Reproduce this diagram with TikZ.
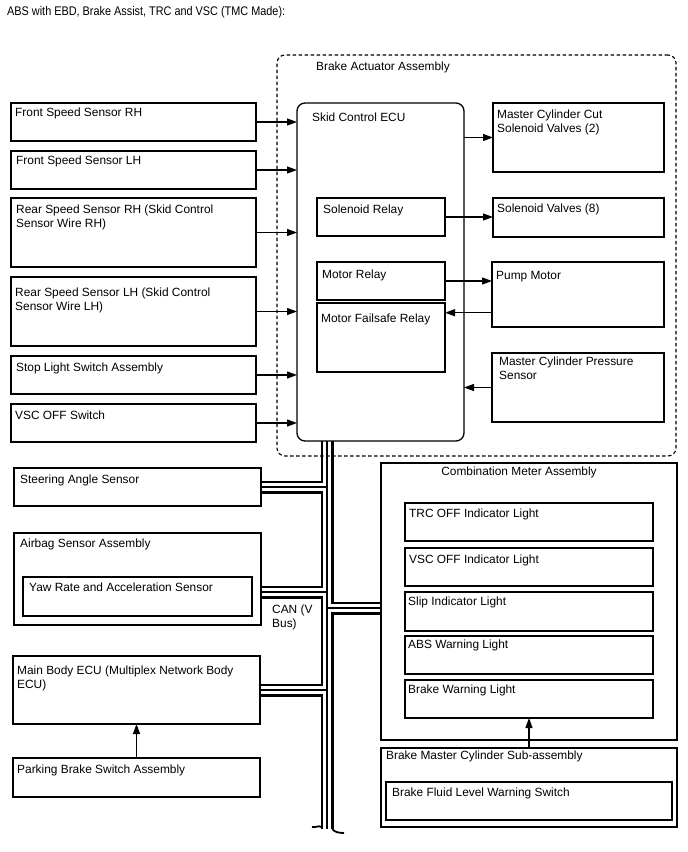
\documentclass[tikz,border=0pt]{standalone}
\usepackage{fontspec}
\setmainfont{Liberation Sans}
\newfontfamily\titlefont[FakeStretch=0.87]{Liberation Sans}
\usetikzlibrary{arrows.meta,calc}
\begin{document}
\begin{tikzpicture}[x=1pt,y=-1pt,
  box/.style={draw, line width=1.3pt, anchor=north west, inner sep=0pt, outer sep=0pt},
  lbl/.style={anchor=base west, inner sep=0pt, font=\fontsize{11.9}{14}\selectfont, align=left},
  arr/.style={line width=1.1pt, -{Triangle[length=10pt,width=7pt]}},
  ]
\useasboundingbox (0,0) rectangle (688,852);
% bus coordinates
\coordinate (bt) at (327,441);
\coordinate (bb) at (327,829);
\coordinate (j1) at (327,487);
\coordinate (j2) at (327,592);
\coordinate (j3) at (327,690);
\coordinate (j4) at (327,608);
\coordinate (sasE) at (261,487);
\coordinate (abE) at (261,592);
\coordinate (mbE) at (260,690);
\coordinate (cbW) at (381,608);
\foreach \w/\c in {13/black,7.2/white,1.3/black}{
  \draw[line width=\w pt,\c] (bt) -- (bb) (sasE) -- (j1) (abE) -- (j2) (mbE) -- (j3) (j4) -- (cbW);
}
\coordinate (tl1) at (321.5,827);
\coordinate (tl2) at (312,827);
\coordinate (tr1) at (332.5,829);
\coordinate (tr2) at (344,833);
\draw[line width=1.8pt] (tl1) .. controls (318,825) and (316,828) .. (tl2);
\draw[line width=1.8pt] (tr1) .. controls (334,832) and (339,833) .. (tr2);

% title
\node[anchor=base west, inner sep=0pt, font=\titlefont\fontsize{12.5}{14}\selectfont] (title) at (7,15) {ABS with EBD, Brake Assist, TRC and VSC (TMC Made):};

% brake actuator assembly (dashed)
\node[box, line width=1.1pt, dash pattern=on 3.5pt off 2.5pt, rounded corners=8pt, minimum width=399pt, minimum height=401pt] (act) at (277,55) {};
\node[box, rounded corners=8pt, minimum width=167pt, minimum height=338pt, fill=white] (ecu) at (297,103) {};

% left boxes
\node[box, minimum width=245pt, minimum height=38pt] (frh) at (11,103) {};
\node[box, minimum width=245pt, minimum height=38pt] (flh) at (11,151) {};
\node[box, minimum width=245pt, minimum height=69pt] (rrh) at (11,198) {};
\node[box, minimum width=245pt, minimum height=69pt] (rlh) at (11,277) {};
\node[box, minimum width=245pt, minimum height=38pt] (stop) at (11,356) {};
\node[box, minimum width=245pt, minimum height=38pt] (vscsw) at (11,404) {};

% actuator inner boxes
\node[box, minimum width=171pt, minimum height=69pt] (mcc) at (493,103) {};
\node[box, minimum width=128pt, minimum height=38pt] (srel) at (317,198) {};
\node[box, minimum width=171pt, minimum height=39pt] (sv) at (493,198) {};
\node[box, minimum width=128pt, minimum height=38pt] (mrel) at (317,262) {};
\node[box, minimum width=128pt, minimum height=69pt] (mfr) at (317,303) {};
\node[box, minimum width=172pt, minimum height=65pt] (pump) at (492,262) {};
\node[box, minimum width=172pt, minimum height=69pt] (mcps) at (492,353) {};

% lower left
\node[box, minimum width=247pt, minimum height=38pt] (sas) at (14,468) {};
\node[box, minimum width=247pt, minimum height=92pt] (airbag) at (14,533) {};
\node[box, minimum width=229pt, minimum height=39pt] (yaw) at (23,577) {};
\node[box, minimum width=247pt, minimum height=68pt] (mbecu) at (13,656) {};
\node[box, minimum width=247pt, minimum height=39pt] (pbs) at (13,758) {};

% combination meter
\node[box, minimum width=296pt, minimum height=277pt] (comb) at (381,463) {};
\node[box, minimum width=248pt, minimum height=38pt] (trc) at (405,503) {};
\node[box, minimum width=248pt, minimum height=38pt] (vscl) at (405,548) {};
\node[box, minimum width=248pt, minimum height=39pt] (slip) at (405,592) {};
\node[box, minimum width=248pt, minimum height=38pt] (abs) at (405,636) {};
\node[box, minimum width=248pt, minimum height=38pt] (bwl) at (405,680) {};
\node[box, minimum width=296pt, minimum height=79pt] (bmc) at (381,748) {};
\node[box, minimum width=286pt, minimum height=38pt] (bfl) at (386,782) {};

% arrows
\draw[arr] (frh.east) -- (frh.east -| ecu.west);
\draw[arr] (flh.east) -- (flh.east -| ecu.west);
\draw[arr] (rrh.east) -- (rrh.east -| ecu.west);
\draw[arr] (rlh.east) -- (rlh.east -| ecu.west);
\draw[arr] (stop.east) -- (stop.east -| ecu.west);
\draw[arr] (vscsw.east) -- (vscsw.east -| ecu.west);
\draw[arr] (mcc.west -| ecu.east) -- (mcc.west);
\draw[arr] (srel.east) -- (srel.east -| sv.west);
\draw[arr] (mrel.east) -- (mrel.east -| pump.west);
\coordinate (pa) at ($(pump.south west)!0.22!(pump.north west)$);
\draw[arr] (pa) -- (pa -| mfr.east);
\draw[arr] (mcps.west) -- (mcps.west -| ecu.east);
\draw[arr] (pbs.north) -- (mbecu.south);
\draw[arr] (bmc.north) -- (bmc.north |- bwl.south);

% labels (multi-line: coordinate is baseline of last line)
\node[lbl] at (15,116) {Front Speed Sensor RH};
\node[lbl] at (16,164) {Front Speed Sensor LH};
\node[lbl] at (16,227) {Rear Speed Sensor RH (Skid Control\\Sensor Wire RH)};
\node[lbl] at (15,310) {Rear Speed Sensor LH (Skid Control\\Sensor Wire LH)};
\node[lbl] at (16,371) {Stop Light Switch Assembly};
\node[lbl] at (15,419) {VSC OFF Switch};
\node[lbl] at (316,70) {Brake Actuator Assembly};
\node[lbl] at (312,121) {Skid Control ECU};
\node[lbl] at (497,132) {Master Cylinder Cut\\Solenoid Valves (2)};
\node[lbl] at (323,213) {Solenoid Relay};
\node[lbl] at (497,212) {Solenoid Valves (8)};
\node[lbl] at (322,278) {Motor Relay};
\node[lbl] at (321,322) {Motor Failsafe Relay};
\node[lbl] at (496,279) {Pump Motor};
\node[lbl] at (499,379) {Master Cylinder Pressure\\Sensor};
\node[lbl] at (20,483) {Steering Angle Sensor};
\node[lbl] at (20,547) {Airbag Sensor Assembly};
\node[lbl] at (29,591) {Yaw Rate and Acceleration Sensor};
\node[lbl] at (272,627) {CAN (V\\Bus)};
\node[lbl] at (17,688) {Main Body ECU (Multiplex Network Body\\ECU)};
\node[lbl] at (17,773) {Parking Brake Switch Assembly};
\node[lbl, anchor=base] at (519,475) {Combination Meter Assembly};
\node[lbl] at (409,517) {TRC OFF Indicator Light};
\node[lbl] at (409,563) {VSC OFF Indicator Light};
\node[lbl] at (408,605) {Slip Indicator Light};
\node[lbl] at (408,648) {ABS Warning Light};
\node[lbl] at (408,693) {Brake Warning Light};
\node[lbl] at (386,759) {Brake Master Cylinder Sub-assembly};
\node[lbl] at (392,796) {Brake Fluid Level Warning Switch};
\end{tikzpicture}
\end{document}
